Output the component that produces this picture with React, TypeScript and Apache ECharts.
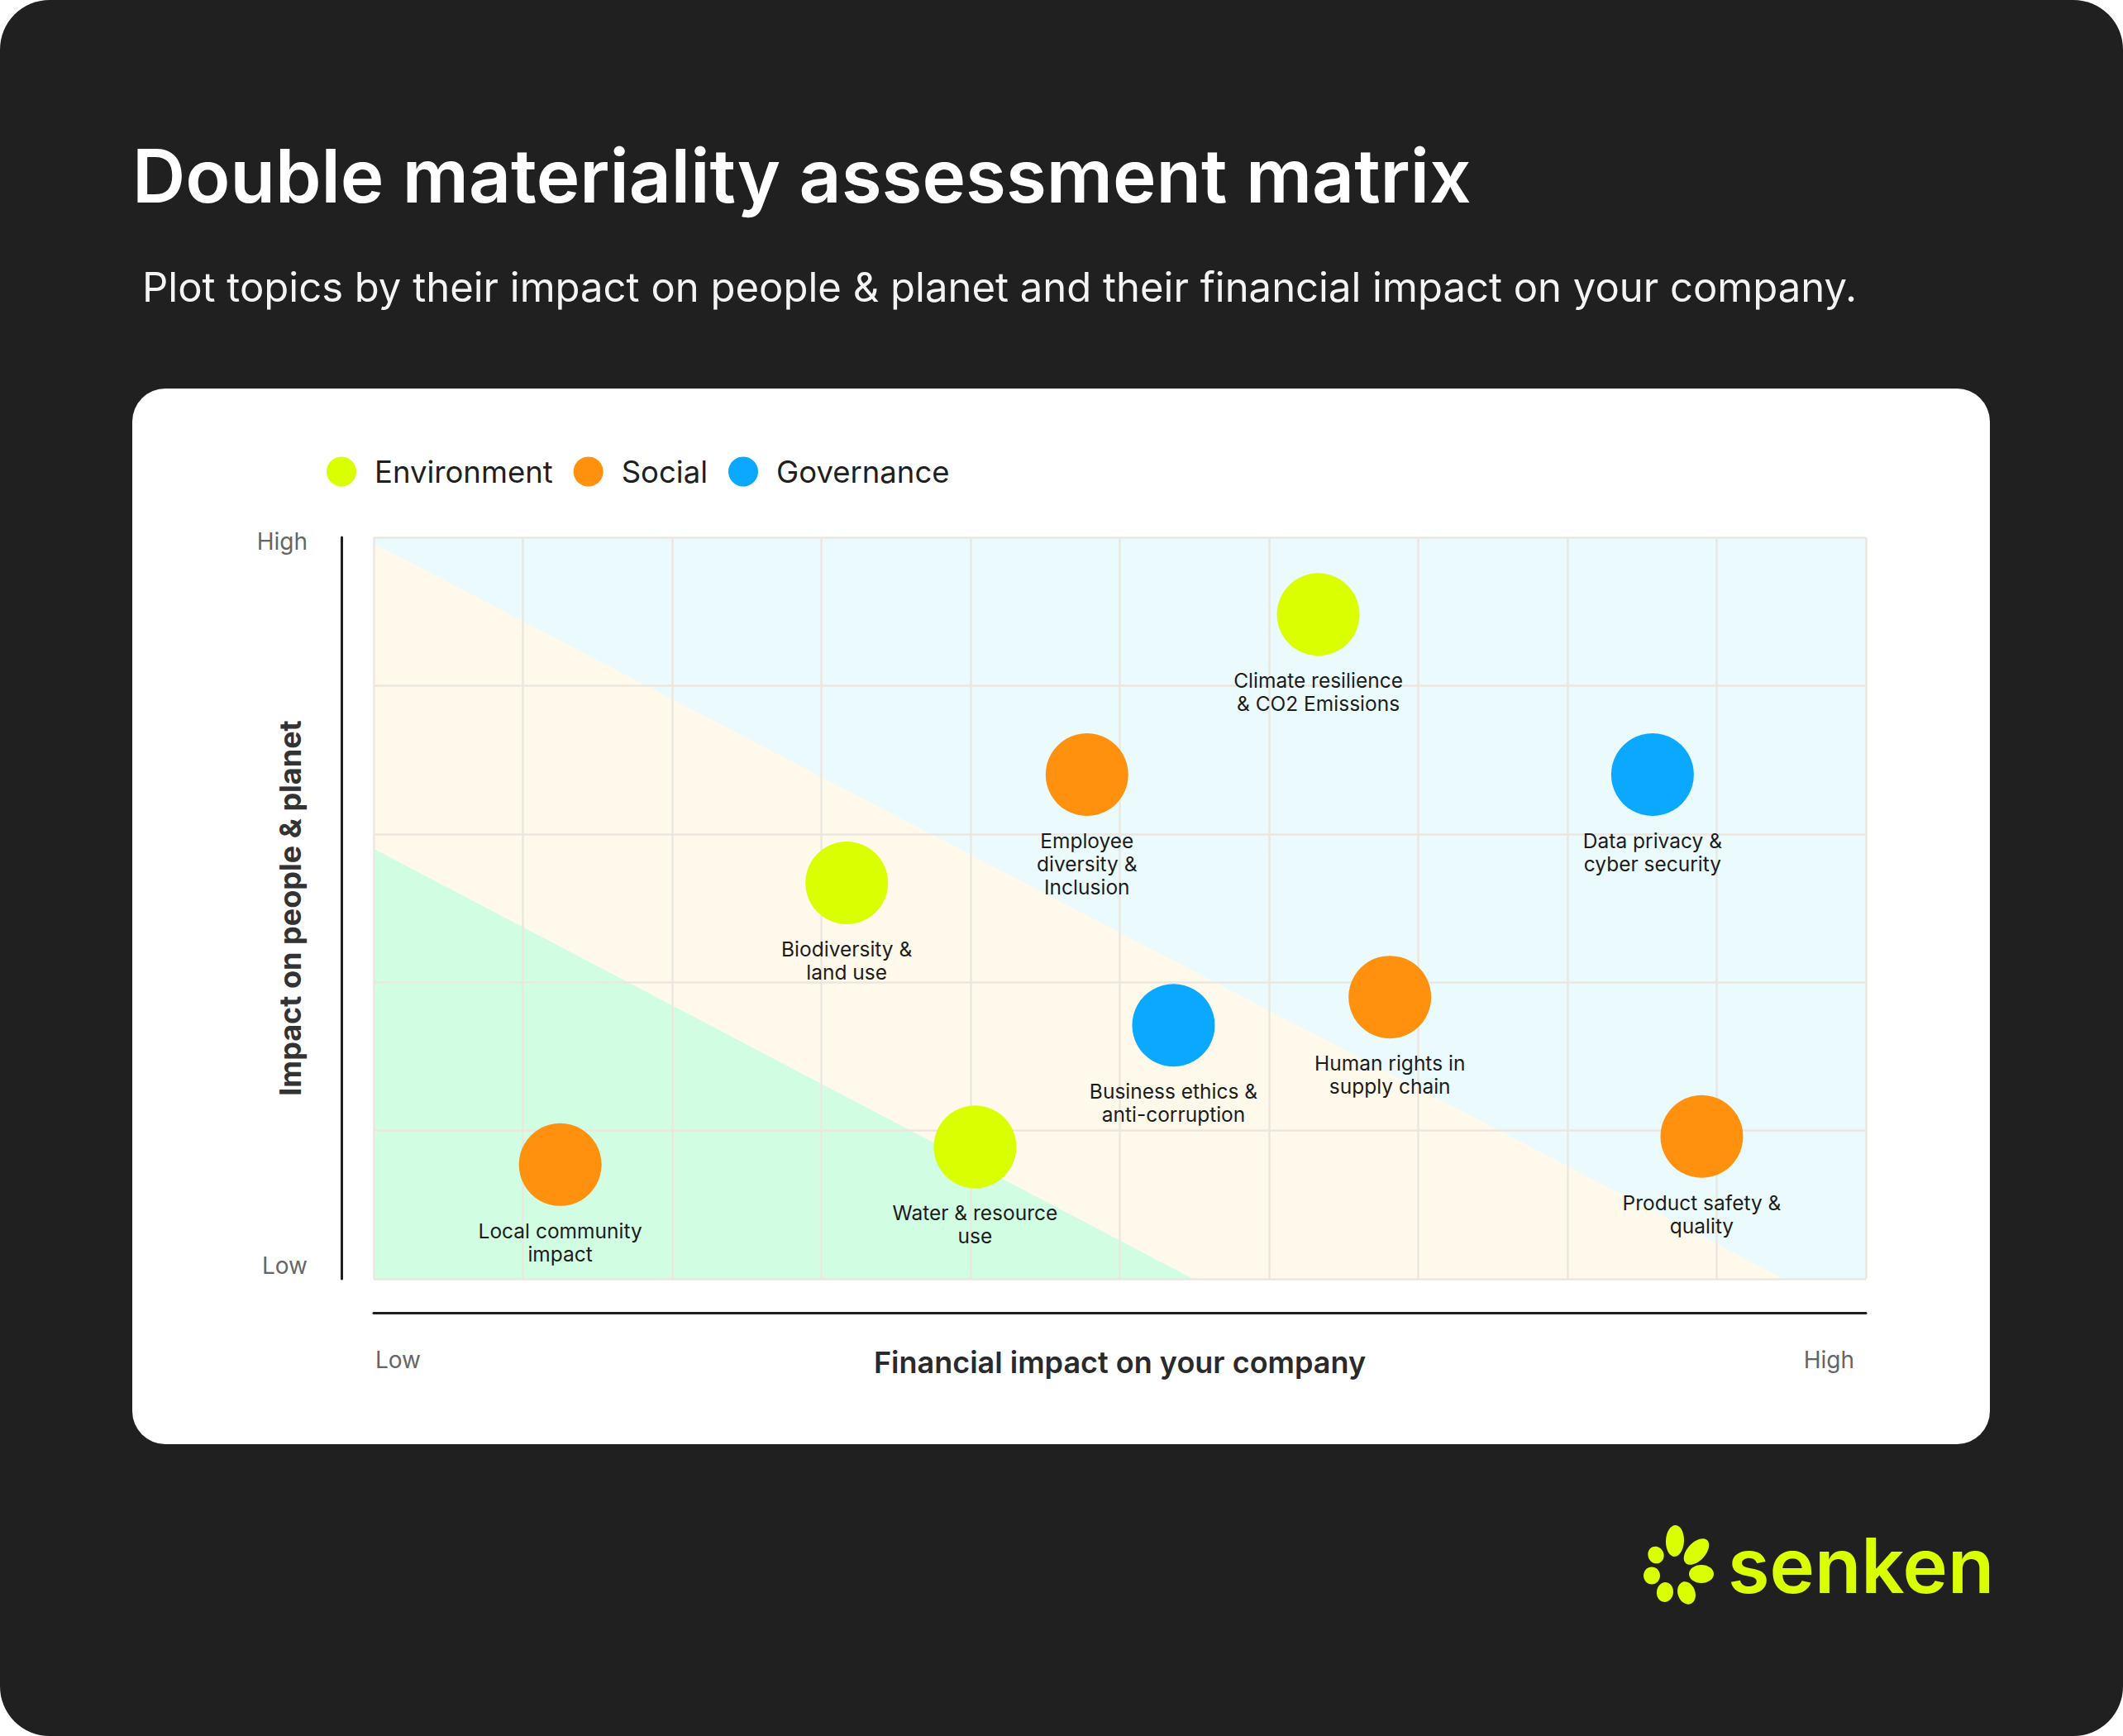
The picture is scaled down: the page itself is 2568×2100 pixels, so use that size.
import React, { useEffect, useRef } from 'react';
import * as echarts from 'echarts';

const W = 2568;
const H = 2100;
const FONT = 'Inter, "Noto Sans", sans-serif';

const titleText = 'Double materiality assessment matrix';
const subtitleText = 'Plot topics by their impact on people & planet and their financial impact on your company.';
const xAxisName = 'Financial impact on your company';
const yAxisName = 'Impact on people & planet';
const xTickLabels = ['Low', 'High'];
const yTickLabels = ['Low', 'High'];

const seriesNames = ['Environment', 'Social', 'Governance'];
const seriesColors = ['#d9ff00', '#ff910f', '#0aa9ff'];

const environmentTopics = ['Climate resilience\n& CO2 Emissions', 'Biodiversity &\nland use', 'Water & resource\nuse'];
const environmentX = [6.33, 3.17, 4.03];
const environmentY = [4.48, 2.67, 0.89];

const socialTopics = ['Employee\ndiversity &\nInclusion', 'Human rights in\nsupply chain', 'Local community\nimpact', 'Product safety &\nquality'];
const socialX = [4.78, 6.81, 1.25, 8.9];
const socialY = [3.4, 1.9, 0.77, 0.96];

const governanceTopics = ['Data privacy &\ncyber security', 'Business ethics &\nanti-corruption'];
const governanceX = [8.57, 5.36];
const governanceY = [3.4, 1.71];

// zone boundaries in data coordinates (x: 0-10, y: 0-5)
const upperBoundary = [[0, 4.96], [9.45, 0]];
const lowerBoundary = [[0, 2.9], [5.49, 0]];
const zoneColors = ['#ebfbfd', '#fef9eb', '#d1fde3'];

export default function App() {
  const ref = useRef<HTMLDivElement>(null);
  useEffect(() => {
    document.body.style.margin = '0';
    const chart = echarts.init(ref.current!, null, { renderer: 'svg' });

    const zonePolys = [
      [[0, 0], [10, 0], [10, 5], [0, 5]],
      [upperBoundary[0], upperBoundary[1], lowerBoundary[1], lowerBoundary[0]],
      [lowerBoundary[0], lowerBoundary[1], [0, 0]],
    ];

    const mk = (names: string[], xs: number[], ys: number[]) =>
      names.map((n, i) => ({ name: n, value: [xs[i], ys[i]] }));
    const groups = [
      mk(environmentTopics, environmentX, environmentY),
      mk(socialTopics, socialX, socialY),
      mk(governanceTopics, governanceX, governanceY),
    ];

    const petals = [
      { x: 2026, y: 1864, rx: 11, ry: 19, r: -0.05 },
      { x: 2052, y: 1877, rx: 11, ry: 19, r: -0.75 },
      { x: 2058, y: 1904, rx: 15, ry: 11, r: 0 },
      { x: 2040, y: 1927, rx: 10.5, ry: 14, r: 0.35 },
      { x: 2014, y: 1926, rx: 10, ry: 12, r: -0.15 },
      { x: 1998, y: 1906, rx: 10, ry: 10.5, r: 0 },
      { x: 2003, y: 1881, rx: 9.5, ry: 10.5, r: 0.4 },
    ];

    const option: any = {
      animation: false,
      backgroundColor: 'transparent',
      graphic: [
        { type: 'rect', z: -100, shape: { x: 0, y: 0, width: W, height: H, r: 60 }, style: { fill: '#202020' } },
        { type: 'rect', z: -99, shape: { x: 160, y: 470, width: 2247, height: 1277, r: 40 }, style: { fill: '#ffffff' } },
        {
          type: 'text', z: 10, x: 160, y: 212,
          style: { text: titleText, fill: '#ffffff', fontSize: 89, fontWeight: 600, fontFamily: FONT, textVerticalAlign: 'middle' },
        },
        {
          type: 'text', z: 10, x: 172, y: 347,
          style: { text: subtitleText, fill: '#f4f4f4', fontSize: 49, fontWeight: 400, fontFamily: FONT, textVerticalAlign: 'middle' },
        },
        ...petals.map((p) => ({
          type: 'ellipse', z: 10, x: p.x, y: p.y, rotation: p.r,
          shape: { cx: 0, cy: 0, rx: p.rx, ry: p.ry }, style: { fill: '#d9ff00' },
        })),
        {
          type: 'text', z: 10, x: 2090, y: 1893,
          style: { text: 'senken', fill: '#d9ff00', fontSize: 92, fontWeight: 600, fontFamily: FONT, textVerticalAlign: 'middle' },
        },
      ],
      legend: {
        left: 395, top: 552, padding: 0, itemWidth: 36, itemHeight: 36, itemGap: 25, icon: 'circle',
        data: seriesNames,
        selectedMode: false,
        textStyle: { fontSize: 36.5, color: '#1f1f1f', fontFamily: FONT, padding: [0, 0, 0, 17] },
      },
      grid: { left: 452, top: 650, right: W - 2257, bottom: H - 1547 },
      xAxis: {
        type: 'value', min: 0, max: 10, interval: 1, offset: 41,
        axisLine: { show: true, onZero: false, lineStyle: { color: '#1e1e1e', width: 3 } },
        axisTick: { show: false },
        splitLine: { show: true, lineStyle: { color: '#ebe7df', width: 2.5 } },
        axisLabel: {
          margin: 43, fontSize: 28, color: '#666666', fontFamily: FONT,
          alignMinLabel: 'left', alignMaxLabel: 'right',
          formatter: (v: number) => (v === 0 ? `{lo|${xTickLabels[0]}}` : v === 10 ? `{hi|${xTickLabels[1]}}` : ''),
          rich: {
            lo: { fontSize: 28, color: '#666666', fontFamily: FONT, padding: [0, 0, 0, 2] },
            hi: { fontSize: 28, color: '#666666', fontFamily: FONT, padding: [0, 14, 0, 0] },
          },
        },
        name: xAxisName, nameLocation: 'middle', nameGap: 42, nameMoveOverlap: false,
        nameTextStyle: { fontSize: 36, fontWeight: 600, color: '#2a2a2a', fontFamily: FONT },
      },
      yAxis: {
        type: 'value', min: 0, max: 5, interval: 1, offset: 39,
        axisLine: { show: true, onZero: false, lineStyle: { color: '#1e1e1e', width: 3 } },
        axisTick: { show: false },
        splitLine: { show: true, lineStyle: { color: '#ebe7df', width: 2.5 } },
        axisLabel: {
          margin: 41, fontSize: 28, color: '#666666', fontFamily: FONT,
          formatter: (v: number) => (v === 0 ? `{lo|${yTickLabels[0]}}` : v === 5 ? `{hi|${yTickLabels[1]}}` : ''),
          rich: {
            lo: { fontSize: 28, color: '#666666', fontFamily: FONT, padding: [0, 0, 32, 0] },
            hi: { fontSize: 28, color: '#666666', fontFamily: FONT, padding: [10, 0, 0, 0] },
          },
        },
        name: yAxisName, nameLocation: 'middle', nameGap: 44, nameRotate: 90, nameMoveOverlap: false,
        nameTextStyle: { fontSize: 36, fontWeight: 700, color: '#333333', fontFamily: FONT },
      },
      series: [
        {
          type: 'custom', name: 'zones', z: -1, silent: true,
          data: zonePolys.map((_, i) => [i, 0]),
          renderItem: (params: any, api: any) => ({
            type: 'polygon',
            shape: { points: zonePolys[params.dataIndex].map((p) => api.coord(p)) },
            style: { fill: zoneColors[params.dataIndex] },
          }),
        },
        ...groups.map((g, i) => ({
          type: 'scatter', name: seriesNames[i], symbolSize: 100,
          itemStyle: { color: seriesColors[i], opacity: 1 },
          emphasis: { disabled: true },
          label: {
            show: true, position: 'bottom', distance: 16, formatter: '{b}', align: 'center',
            fontSize: 24.5, lineHeight: 28, color: '#1c1c1c', fontFamily: FONT,
          },
          data: g,
        })),
      ],
    };
    chart.setOption(option);
    return () => chart.dispose();
  }, []);
  return <div ref={ref} style={{ width: W, height: H }} />;
}
